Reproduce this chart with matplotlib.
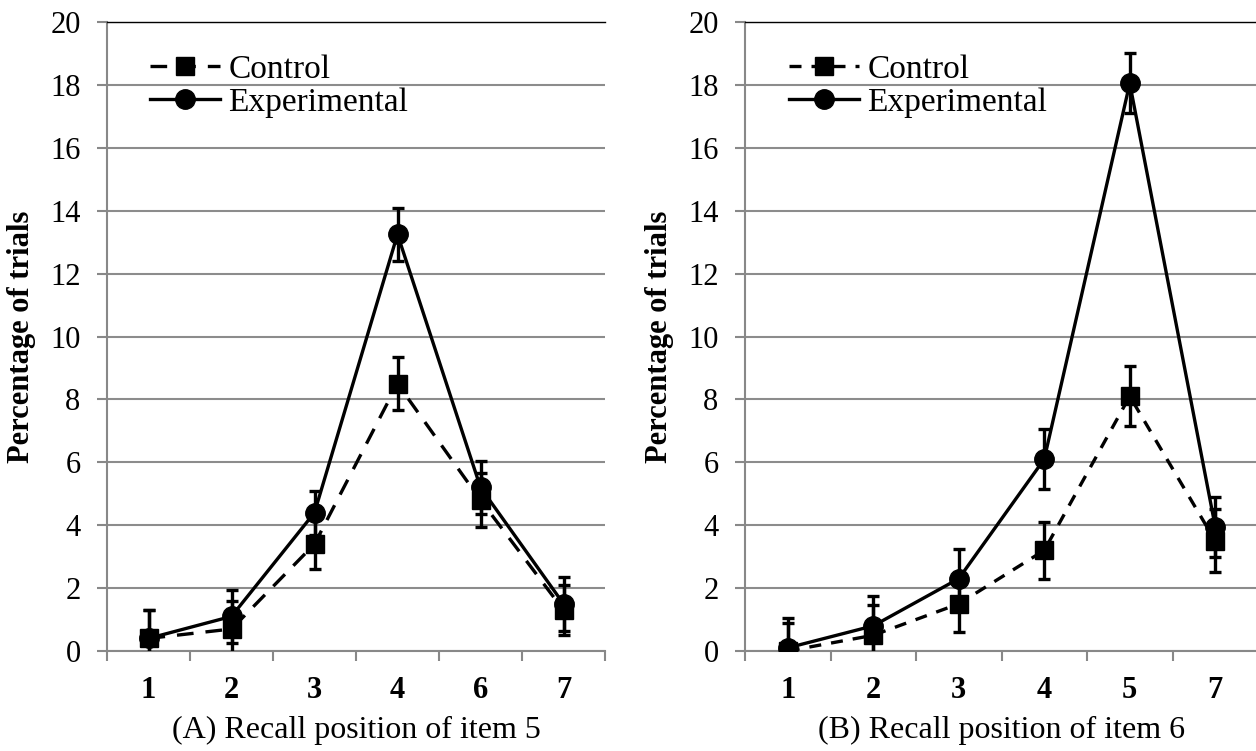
import numpy as np
import matplotlib
matplotlib.use("Agg")
import matplotlib.pyplot as plt

plt.rcParams['font.family'] = ['Liberation Serif', 'DejaVu Serif']

# panel A: recall position of item 5
cats_a = ["1", "2", "3", "4", "6", "7"]
ctrl_a = [0.4, 0.7, 3.4, 8.5, 4.8, 1.3]
ctrl_a_err = [0.9, 0.9, 0.8, 0.85, 0.85, 0.8]
exp_a = [0.4, 1.1, 4.4, 13.25, 5.2, 1.5]
exp_a_err = [0.9, 0.85, 0.7, 0.85, 0.85, 0.85]

# panel B: recall position of item 6
cats_b = ["1", "2", "3", "4", "5", "7"]
ctrl_b = [0.0, 0.5, 1.5, 3.2, 8.1, 3.5]
ctrl_b_err = [0.9, 0.95, 0.9, 0.9, 0.95, 1.0]
exp_b = [0.1, 0.8, 2.3, 6.1, 18.05, 3.95]
exp_b_err = [0.95, 0.95, 0.95, 0.95, 0.95, 0.95]

fig = plt.figure(figsize=(12.56, 7.51), dpi=100)
ax1 = fig.add_axes([107/1256, 1-651/751, 498/1256, 629/751])
ax2 = fig.add_axes([745/1256, 1-651/751, 513/1256, 629/751])

def draw(ax, cats, ctrl, ctrl_err, exp, exp_err, xlabel, dash):
    x = np.arange(len(cats))
    ax.errorbar(x, ctrl, yerr=ctrl_err, color='black', ls=(0, dash), lw=2.4,
                marker='s', ms=13.5, capsize=4.5, capthick=2.4, elinewidth=2.4,
                label='Control', zorder=3)
    ax.errorbar(x, exp, yerr=exp_err, color='black', ls='-', lw=2.4,
                marker='o', ms=14, capsize=4.5, capthick=2.4, elinewidth=2.4,
                label='Experimental', zorder=4)
    ax.set_xlim(-0.5, len(cats) - 0.5)
    ax.set_ylim(0, 20)
    ax.set_yticks(np.arange(0, 21, 2))
    ax.set_xticks(x)
    ax.set_xticklabels(cats, fontweight='bold', fontsize=22)
    ax.set_xticks(np.arange(-0.5, len(cats)), minor=True)
    ax.tick_params(axis='x', which='major', length=0, pad=18)
    ax.tick_params(axis='x', which='minor', length=7, width=1.5, color='#888888')
    ax.tick_params(axis='y', length=7, width=1.5, color='#888888', labelsize=22, pad=12)
    ax.grid(axis='y', color='#8c8c8c', lw=1.5, zorder=0)
    ax.set_axisbelow(True)
    ax.spines['right'].set_visible(False)
    ax.spines['top'].set_color('black')
    ax.spines['top'].set_linewidth(1.0)
    for s in ['left', 'bottom']:
        ax.spines[s].set_color('#888888')
        ax.spines[s].set_linewidth(1.5)
    ax.set_ylabel('Percentage of trials', fontweight='bold', fontsize=22, labelpad=10)
    ax.set_xlabel(xlabel, fontsize=23, labelpad=8)
    h, l = ax.get_legend_handles_labels()
    h = [hh[0] for hh in h]
    ax.legend(h, l, loc='upper left', frameon=False, fontsize=24,
              handlelength=2.1, handletextpad=0.25, labelspacing=0.08,
              borderaxespad=0, bbox_to_anchor=(0.06, 0.97))

draw(ax1, cats_a, ctrl_a, ctrl_a_err, exp_a, exp_a_err,
     '(A) Recall position of item 5', (5, 3.6))
draw(ax2, cats_b, ctrl_b, ctrl_b_err, exp_b, exp_b_err,
     '(B) Recall position of item 6', (3.6, 3))

fig.savefig('out.png', dpi=100)
